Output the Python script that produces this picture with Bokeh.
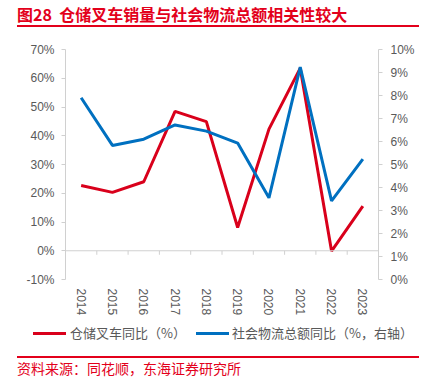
import numpy as np
from bokeh.plotting import figure
from bokeh.layouts import column
from bokeh.models import (Range1d, LinearAxis, FixedTicker, PrintfTickFormatter, Span, Div)
from bokeh.embed import file_html
from bokeh.resources import INLINE

years = ["2014", "2015", "2016", "2017", "2018", "2019", "2020", "2021", "2022", "2023"]
forklift_yoy = [22.7, 20.3, 24.0, 48.5, 44.9, 8.1, 42.3, 63.5, -0.1, 15.5]
logistics_yoy = [7.9, 5.83, 6.1, 6.72, 6.45, 5.93, 3.55, 9.23, 3.42, 5.23]
left_ticks = [-10, 0, 10, 20, 30, 40, 50, 60, 70]
right_ticks = [0, 1, 2, 3, 4, 5, 6, 7, 8, 9, 10]

title_text = "图28  仓储叉车销量与社会物流总额相关性较大"
source_text = "资料来源：同花顺，东海证券研究所"
name_red = "仓储叉车同比（%）"
name_blue = "社会物流总额同比（%，右轴）"

RED = "#d9001b"
BLUE = "#0070c0"
TITLE_RED = "#e3001b"
GRAY_TXT = "#595959"
AXIS_GRAY = "#d0d0d0"
CJK = "Noto Sans CJK SC"
LAT = "Liberation Sans"
W = 426


def box(left, top, width, height, color):
    return (f'<div style="position:absolute;left:{left}px;top:{top}px;width:{width}px;'
            f'height:{height}px;background:{color};"></div>')


def txt(left, top, text, size, color, bold=False, lh=None):
    lh = lh or size + 2
    weight = "bold" if bold else "normal"
    return (f'<div style="position:absolute;left:{left}px;top:{top}px;white-space:pre;'
            f'font-family:\'{CJK}\';font-weight:{weight};font-size:{size}px;'
            f'line-height:{lh}px;color:{color};">{text}</div>')


def wrap(height, inner):
    return (f'<div style="position:absolute;left:0;top:0;width:{W}px;height:{height}px;'
            f'margin:0;padding:0;">{inner}</div>')


# ---- header ----
header = Div(width=W, height=35, margin=(0, 0, 0, 0), text=wrap(35,
    txt(17, 5, title_text, 16, TITLE_RED, bold=True) + box(17, 25, 402, 2, TITLE_RED)))

# ---- main chart ----
x = np.arange(len(years))
p = figure(frame_width=313, frame_height=230, output_backend="svg", toolbar_location=None,
           x_range=Range1d(-0.5, len(years) - 0.5), y_range=Range1d(-10, 70),
           min_border_left=65, min_border_right=48, min_border_top=14, min_border_bottom=43)
p.outline_line_color = None
p.xgrid.visible = False
p.ygrid.visible = False
p.extra_y_ranges = {"right": Range1d(0, 10)}

ya = p.yaxis[0]
ya.ticker = FixedTicker(ticks=left_ticks)
ya.formatter = PrintfTickFormatter(format="%d%%")
ya.axis_line_color = AXIS_GRAY
ya.major_tick_line_color = AXIS_GRAY
ya.major_tick_out = 4
ya.major_tick_in = 0
ya.minor_tick_line_color = None
ya.major_label_standoff = 7
ya.major_label_text_font = LAT
ya.major_label_text_font_size = "12px"
ya.major_label_text_color = GRAY_TXT

ra = LinearAxis(y_range_name="right", ticker=FixedTicker(ticks=right_ticks),
                formatter=PrintfTickFormatter(format="%d%%"))
ra.axis_line_color = AXIS_GRAY
ra.major_tick_line_color = AXIS_GRAY
ra.major_tick_out = 4
ra.major_tick_in = 0
ra.minor_tick_line_color = None
ra.major_label_standoff = 8
ra.major_label_text_font = LAT
ra.major_label_text_font_size = "12px"
ra.major_label_text_color = GRAY_TXT
p.add_layout(ra, "right")

xa = p.xaxis[0]
xa.ticker = FixedTicker(ticks=list(x))
xa.major_label_overrides = {int(i): y for i, y in zip(x, years)}
xa.axis_line_color = None
xa.major_tick_line_color = None
xa.major_tick_out = 0
xa.major_tick_in = 0
xa.minor_tick_line_color = None
xa.major_label_orientation = "vertical"
xa.major_label_standoff = 9
xa.major_label_text_font = LAT
xa.major_label_text_font_size = "12px"
xa.major_label_text_color = GRAY_TXT

p.add_layout(Span(location=0, dimension="width", line_color=AXIS_GRAY, line_width=1))
bounds = x[:-1] + 0.5
p.segment(x0=bounds, y0=np.zeros(len(bounds)), x1=bounds, y1=np.full(len(bounds), -1.4),
          line_color=AXIS_GRAY, line_width=1)

p.line(x, forklift_yoy, line_color=RED, line_width=3)
p.line(x, logistics_yoy, line_color=BLUE, line_width=3, y_range_name="right")

# ---- footer: legend + source ----
footer = Div(width=W, height=57, margin=(0, 0, 0, 0), text=wrap(57,
    box(33, 10, 33, 3, RED) + txt(70, 3, name_red, 13, GRAY_TXT, lh=16)
    + box(196, 10, 33, 3, BLUE) + txt(232, 3, name_blue, 13, GRAY_TXT, lh=16)
    + box(17, 34, 402, 2, TITLE_RED) + txt(17, 38, source_text, 14, TITLE_RED, lh=16)))

layout = column(header, p, footer, spacing=0)
open("out.html", "w").write(file_html(layout, INLINE))
